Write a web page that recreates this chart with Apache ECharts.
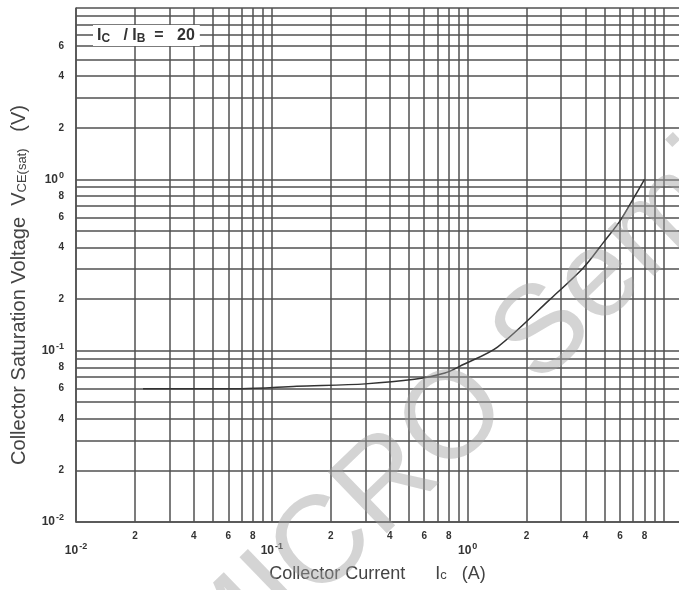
<!DOCTYPE html>
<html>
<head>
<meta charset="utf-8">
<script src="https://cdn.jsdelivr.net/npm/echarts@6/dist/echarts.min.js"></script>
<style>
html, body { margin: 0; padding: 0; background: #fff; }
#chart { width: 679px; height: 590px; }
</style>
</head>
<body>
<div id="chart"></div>
<script>
// collector current Ic (A)
var currentData = [0.022, 0.07, 0.134, 0.3, 0.535, 0.765, 0.95, 1.42, 2.64, 3.9, 4.95, 6.05, 7.1, 8.0];
// collector saturation voltage VCE(sat) (V)
var voltageData = [0.06, 0.06, 0.062, 0.064, 0.068, 0.074, 0.083, 0.105, 0.2, 0.305, 0.43, 0.58, 0.79, 1.0];

// grid lines (1..9 in every decade)
var xGridValues = [0.01, 0.02, 0.03, 0.04, 0.05, 0.06, 0.07, 0.08, 0.09,
                   0.1, 0.2, 0.3, 0.4, 0.5, 0.6, 0.7, 0.8, 0.9,
                   1, 2, 3, 4, 5, 6, 7, 8, 9, 10];
var yGridValues = [0.01, 0.02, 0.03, 0.04, 0.05, 0.06, 0.07, 0.08, 0.09,
                   0.1, 0.2, 0.3, 0.4, 0.5, 0.6, 0.7, 0.8, 0.9,
                   1, 2, 3, 4, 5, 6, 7, 8, 9, 10];

// tick labels
var xDigitLabels = [0.02, 0.04, 0.06, 0.08, 0.2, 0.4, 0.6, 0.8, 2, 4, 6, 8];
var xDecadeLabels = [0.01, 0.1, 1];
var yLabels = [0.01, 0.02, 0.04, 0.06, 0.08, 0.1, 0.2, 0.4, 0.6, 0.8, 1, 2, 4, 6];

var lineColor = '#505050';

var decadeText = function (v) {
    var e = Math.round(Math.log10(v));
    if (Math.abs(v / Math.pow(10, e) - 1) < 1e-6) {
        return '{b|10}{s|' + e + '}';
    }
    var m = Math.round(v / Math.pow(10, Math.floor(Math.log10(v) + 1e-9)));
    return '{d|' + m + '}';
};

var labelRich = {
    b: { fontFamily: 'Liberation Sans', fontSize: 12, fontWeight: 'bold', color: '#333' },
    s: { fontFamily: 'Liberation Sans', fontSize: 9, fontWeight: 'bold', color: '#333', verticalAlign: 'top', padding: [0, 0, 8, 1] },
    d: { fontFamily: 'Liberation Sans', fontSize: 10, fontWeight: 'bold', color: '#333' }
};

var points = [];
for (var i = 0; i < currentData.length; i++) {
    points.push([currentData[i], voltageData[i]]);
}

var options = {
    animation: false,
    grid: { left: 76, top: 8, width: 604, height: 514 },
    xAxis: [
        {
            type: 'log',
            logBase: 10,
            min: 0.01,
            max: 12,
            position: 'bottom',
            axisLine: { show: true, lineStyle: { color: lineColor, width: 1.5 } },
            axisTick: { show: false, customValues: xGridValues },
            splitLine: { show: true, lineStyle: { color: lineColor, width: 1.5 } },
            axisLabel: {
                customValues: xDigitLabels,
                margin: 9,
                formatter: decadeText,
                rich: labelRich
            },
            name: 'Collector Current      I{sub|c}   (A)',
            nameLocation: 'middle',
            nameGap: 43,
            nameTextStyle: {
                fontFamily: 'Liberation Sans', fontSize: 18, color: '#444',
                rich: { sub: { fontFamily: 'Liberation Sans', fontSize: 13, color: '#444', padding: [3, 0, 0, 0] } }
            }
        },
        {
            type: 'log',
            logBase: 10,
            min: 0.01,
            max: 12,
            position: 'bottom',
            axisLine: { show: false },
            axisTick: { show: false },
            splitLine: { show: false },
            axisLabel: {
                customValues: xDecadeLabels,
                margin: 20,
                formatter: decadeText,
                rich: labelRich
            }
        }
    ],
    yAxis: {
        type: 'log',
        logBase: 10,
        min: 0.01,
        max: 10,
        axisLine: { show: true, lineStyle: { color: lineColor, width: 1.5 } },
        axisTick: { show: false, customValues: yGridValues },
        splitLine: { show: true, lineStyle: { color: lineColor, width: 1.5 } },
        axisLabel: {
            customValues: yLabels,
            margin: 12,
            formatter: decadeText,
            rich: labelRich
        },
        name: 'Collector Saturation Voltage  V{sub|CE(sat)}   (V)',
        nameLocation: 'middle',
        nameGap: 47,
        nameTextStyle: {
            fontFamily: 'Liberation Sans', fontSize: 20, color: '#444',
            padding: [0, 40, 0, 0],
            rich: { sub: { fontFamily: 'Liberation Sans', fontSize: 13, color: '#444', padding: [7, 0, 0, 0] } }
        }
    },
    graphic: [
        {
            type: 'text',
            x: 93,
            y: 25,
            z: 10,
            style: {
                text: 'I{sub|C}   / I{sub|B}  =   20',
                fontFamily: 'Liberation Sans',
                fontSize: 16,
                fontWeight: 'bold',
                fill: '#333',
                backgroundColor: '#fff',
                padding: [2, 5, 1, 4],
                rich: { sub: { fontFamily: 'Liberation Sans', fontSize: 12, fontWeight: 'bold', fill: '#333', padding: [6, 0, 0, 0] } }
            }
        },
        {
            type: 'text',
            x: 455,
            y: 420,
            rotation: 0.768,
            z: 20,
            silent: true,
            style: {
                text: 'MICRO Semi',
                fontFamily: 'Liberation Sans',
                fontSize: 124,
                fill: 'rgba(160,160,160,0.45)',
                align: 'center',
                verticalAlign: 'middle'
            }
        }
    ],
    series: [
        {
            type: 'line',
            data: points,
            symbol: 'none',
            smooth: 0.3,
            lineStyle: { color: '#333', width: 1.5 },
            z: 5
        }
    ]
};

var chart = echarts.init(document.getElementById('chart'), null, { renderer: 'canvas' });
chart.setOption(options);
</script>
</body>
</html>
